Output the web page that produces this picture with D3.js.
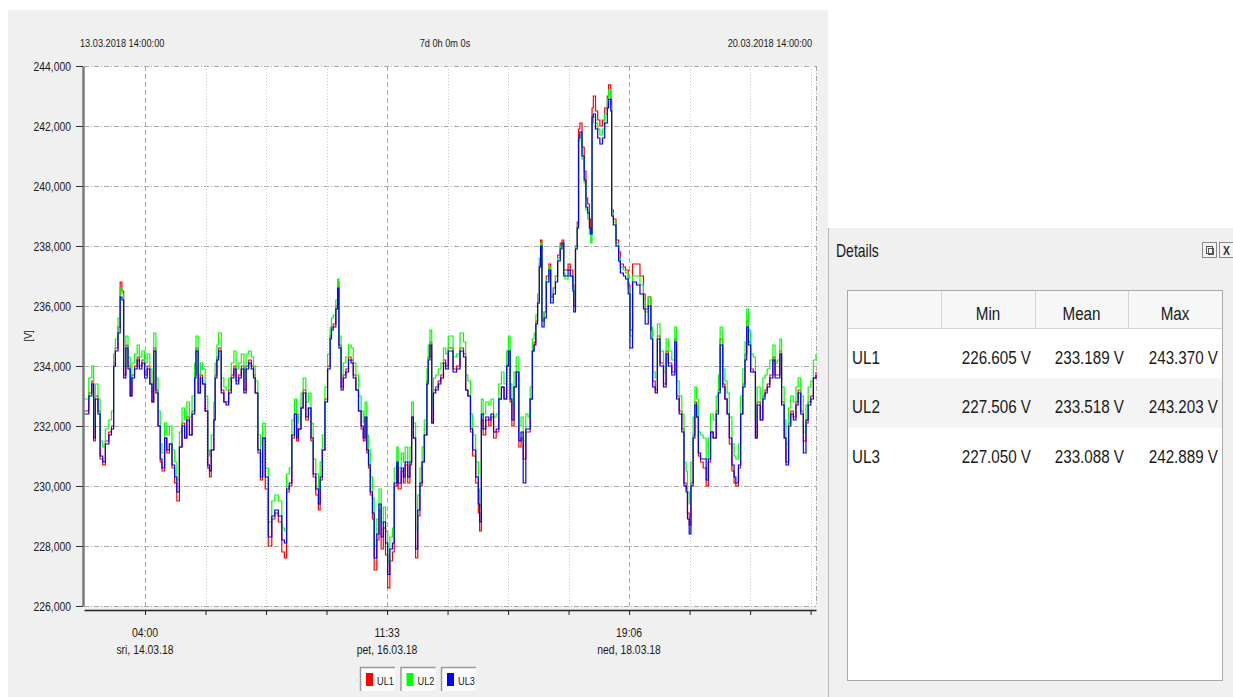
<!DOCTYPE html>
<html>
<head>
    <meta charset="utf-8">
    <title>UL1 / UL2 / UL3</title>
    <script src="https://cdnjs.cloudflare.com/ajax/libs/d3/7.8.5/d3.min.js"></script>
    <style>
        body { margin: 0; background: #fff; }
        text { font-family: "Liberation Sans", Arial, sans-serif; fill: #1a1a1a; }
    </style>
</head>
<body>
<div id="container"></div>
<script type="text/javascript">
    // time offsets (hours from 13.03.2018 14:00) shared by the three phases
    const hours = [
        0.0,1.1,1.8,2.2,2.6,3.2,3.7,4.3,4.9,5.7, 6.3,6.8,7.2,7.8,8.3,8.7,9.1,9.6,10.1,10.6,
        11.0,11.6,12.2,12.7,13.3,13.9,14.5,15.1,15.6,16.0, 16.5,17.0,17.5,17.9,18.5,19.0,19.6,20.2,20.8,21.3,
        21.9,22.5,23.1,23.6,24.2,24.8,25.4,25.7,26.2,26.7, 27.2,27.8,28.4,28.8,29.2,29.8,30.1,30.5,30.9,31.5,
        32.1,32.6,33.2,33.8,34.4,34.9,35.5,36.1,36.7,37.2, 37.8,38.4,38.9,39.3,39.9,40.5,41.0,41.6,
        42.3,43.1,43.8,44.6,45.4,46.0,46.5,47.1,47.7,48.3, 48.8,49.2,49.8,50.3,50.9,51.5,52.1,52.6,53.2,53.8,
        54.2,54.7,55.3,55.9,56.5,56.8,57.2,57.8,58.2,58.5, 59.0,59.5,60.1,60.7,61.3,61.8,62.4,63.0,63.6,64.1,
        64.5,64.9,65.3,65.7,66.2,66.6,67.2,67.7,68.2,68.7, 69.2,69.7,70.2,70.8,71.2,71.8,72.1,72.8,73.3,73.7,
        74.3,74.8,75.2,75.6,76.1,76.6,77.1,77.6,78.1,78.7, 79.0,79.4,79.8,80.2,80.7,81.3,81.9,82.5,83.0,83.6,
        84.7,85.5,86.3,87.1,87.6,88.1,88.7,89.2,89.9,90.5, 90.8,91.2,91.6,92.2,92.9,93.4,94.0,94.6,95.2,95.8,
        96.4,97.0,97.4,97.8,98.2,98.7,99.2,99.8,100.3,100.8, 101.4,101.9,102.4,102.9,103.3,103.7,104.1,104.5,104.8,105.1,
        105.6,106.1,106.7,107.1,107.7,108.2,108.7,109.3,109.7,110.1, 110.4,111.1,111.6,112.2,112.4,112.8,113.2,113.5,113.8,114.3,
        114.8,115.2,115.6,116.0,116.3,116.6,116.9,117.4,117.9,118.4, 119.0,119.5,120.1,120.4,120.9,121.1,121.5,122.1,122.7,123.1,
        123.8,124.3,124.9,125.3,125.9,
        126.8,127.6,128.4,128.8,129.5,130.1,130.5,131.1,131.6,132.2, 133.0,133.6,134.1,134.9,135.6,136.0,136.6,137.2,137.7,138.2,
        138.5,138.9,139.3,139.8,140.2,140.6,141.0,141.5,142.1,142.8, 143.3,143.8,144.4,145.1,145.6,146.0,146.6,147.1,147.6,148.1,
        148.7,149.2,149.6,150.2,150.7,151.2,151.7,152.1,152.5,153.0, 153.6,154.1,154.5,155.2,155.8,156.3,156.8,157.4,158.1,158.6,
        159.1,159.7,160.1,160.7,161.1,161.7,162.2,162.8,163.4,163.9, 164.5,165.1,165.7,166.2,166.8,167.4,168.0
    ];

    const ul1 = [
        232.5,233.1,233.5,231.5,233.0,232.5,230.9,230.7,231.5,231.8, 232.0,234.1,234.6,235.3,236.8,236.5,233.7,234.7,234.0,233.0,
        233.7,234.0,234.3,234.0,234.2,233.7,234.0,233.4,232.8,234.6, 233.2,232.0,230.8,230.5,231.6,231.1,231.4,230.6,230.1,229.5,
        231.3,232.1,231.6,232.3,231.7,232.5,233.7,234.6,233.1,233.7, 233.4,232.5,230.6,230.3,231.2,232.2,233.7,234.3,234.6,233.2,
        232.8,232.8,233.2,233.7,234.0,233.5,233.7,234.0,233.2,234.0, 234.2,234.0,233.7,233.1,231.1,230.2,231.6,229.9,
        228.0,228.9,229.1,228.8,227.8,227.6,229.8,230.0,231.6,232.4, 231.5,231.9,232.6,233.2,232.2,232.6,231.5,230.3,229.7,229.2,
        230.2,231.2,232.9,234.0,235.0,235.3,235.4,236.0,236.8,234.7, 233.3,233.7,233.9,234.3,234.2,233.7,233.2,232.5,231.9,231.5,
        232.3,231.1,230.6,229.7,228.9,227.2,228.2,229.2,227.9,228.6, 227.7,226.605,227.5,227.8,230.0,230.7,229.9,230.5,230.1,230.7,
        230.1,230.7,232.3,231.6,227.6,229.0,230.0,230.8,231.7,233.5, 234.3,234.8,232.1,233.2,233.3,233.5,233.7,234.2,234.0,234.6,
        233.9,234.0,234.6,234.4,233.2,233.0,231.8,231.0,230.1,229.1, 228.5,232.2,231.7,232.2,232.0,232.3,231.6,231.8,232.9,233.3,
        232.9,234.0,234.5,232.8,232.0,233.3,233.8,231.3,231.6,230.9, 231.8,231.8,232.9,234.5,234.8,235.5,236.2,237.4,238.2,235.5,
        235.8,237.0,237.4,236.3,236.6,237.0,237.7,238.1,238.2,237.2, 237.2,237.4,237.2,236.7,236.0,238.0,238.8,241.9,242.1,241.3,
        240.5,239.6,239.4,238.9,238.6,242.6,243.0,242.5,242.2,242.0, 242.2,242.6,243.0,243.37,242.9,239.2,238.9,238.2,237.8,237.4,
        237.3,237.2,236.7,235.2,237.4,
        237.4,237.0,236.4,235.9,236.3,235.2,233.5,233.2,235.0,234.1, 233.4,234.5,234.1,233.8,234.9,233.0,232.5,231.9,230.1,229.9,
        229.1,228.7,230.1,231.7,232.8,232.3,231.0,230.8,230.6,230.0, 230.8,231.8,231.6,232.5,233.2,234.9,233.4,232.9,232.4,231.4,
        230.5,230.1,230.0,230.6,232.4,233.4,234.4,235.5,234.8,233.9, 233.8,231.6,232.8,232.2,233.0,233.2,233.4,233.7,234.3,233.7,
        233.7,234.5,232.8,231.6,230.8,232.1,232.5,232.3,232.8,233.2, 232.5,231.5,232.1,232.8,233.0,233.6,233.8
    ];

    const ul2 = [
        232.9,233.6,234.0,232.0,233.4,232.9,231.5,231.3,231.9,232.2, 232.5,234.4,234.9,235.6,236.6,236.4,234.0,235.0,234.3,233.5,
        234.1,234.4,234.7,234.3,234.5,234.1,234.4,233.9,233.3,235.1, 233.6,232.5,231.4,231.1,232.1,231.7,232.0,231.2,230.8,230.2,
        231.8,232.6,232.2,232.8,232.3,233.0,234.1,235.0,233.7,234.1, 233.9,233.0,231.2,231.0,231.7,232.8,234.1,234.7,235.1,233.6,
        233.3,233.2,233.6,234.1,234.5,233.9,234.1,234.4,233.6,234.4, 234.5,234.3,234.0,233.5,231.7,230.8,232.1,230.6,
        228.8,229.5,229.7,229.5,228.6,228.5,230.4,230.6,232.2,232.9, 232.1,232.4,233.1,233.6,232.8,233.1,232.1,230.9,230.4,229.9,
        230.8,231.7,233.3,234.4,235.3,235.6,235.7,236.2,236.9,235.0, 233.7,234.1,234.3,234.7,234.6,234.1,233.7,233.0,232.5,232.1,
        232.8,231.7,231.2,230.3,229.6,228.0,228.9,229.9,228.8,229.3, 228.5,227.506,228.3,228.6,230.6,231.3,230.6,231.1,230.8,231.3,
        230.8,231.3,232.8,232.1,228.6,229.7,230.6,231.3,232.2,233.9, 234.7,235.2,232.6,233.6,233.7,233.9,234.1,234.6,234.4,235.0,
        234.3,234.4,235.1,234.8,233.7,233.5,232.4,231.7,230.8,229.9, 229.3,232.9,232.4,232.8,232.7,232.9,232.3,232.4,233.4,233.8,
        233.4,234.5,235.0,233.4,232.7,233.8,234.3,232.0,232.3,231.5, 232.4,232.3,233.3,234.9,235.1,235.7,236.4,237.6,238.1,235.5,
        235.8,236.9,237.3,236.3,236.6,237.0,237.6,238.0,238.1,237.1, 236.9,237.0,237.0,236.6,236.2,238.0,238.7,241.5,241.7,240.9,
        240.1,239.2,238.9,238.4,238.1,242.1,242.3,242.1,241.9,241.7, 241.9,242.4,242.9,243.2,242.7,239.1,238.8,238.1,237.6,237.3,
        237.2,237.1,236.6,235.0,237.0,
        237.0,236.7,236.2,235.8,236.3,235.3,233.8,233.6,235.4,234.5, 233.8,234.9,234.5,234.2,235.3,233.5,233.0,232.4,230.8,230.5,
        229.8,229.4,230.8,232.3,233.3,232.9,231.8,231.7,231.6,230.9, 231.6,232.4,232.2,233.0,233.7,235.3,233.9,233.5,233.1,232.3,
        231.4,231.0,230.9,231.4,233.0,233.9,234.8,235.9,235.2,234.4, 234.3,232.2,233.3,232.8,233.6,233.7,233.9,234.2,234.7,234.1,
        234.2,234.9,233.3,232.2,231.4,232.6,233.0,232.8,233.3,233.6, 233.0,231.8,232.7,233.3,233.5,234.2,234.4
    ];

    const ul3 = [
        232.4,233.0,233.4,231.6,232.9,232.4,231.0,230.8,231.4,231.7, 231.9,234.0,234.5,235.1,236.3,236.2,233.6,234.6,233.9,233.0,
        233.6,233.9,234.2,233.9,234.1,233.6,233.9,233.4,232.8,234.5, 233.1,232.0,230.9,230.6,231.6,231.2,231.4,230.7,230.3,229.8,
        231.3,232.0,231.6,232.2,231.7,232.4,233.6,234.5,233.1,233.6, 233.4,232.5,230.7,230.5,231.2,232.2,233.6,234.2,234.5,233.1,
        232.8,232.7,233.1,233.6,233.9,233.4,233.6,233.9,233.1,233.9, 234.1,233.9,233.6,233.1,231.2,230.3,231.6,230.3,
        228.3,229.0,229.2,229.0,228.2,228.1,229.9,230.1,231.7,232.4, 231.6,231.9,232.6,233.1,232.3,232.6,231.6,230.4,229.9,229.4,
        230.3,231.2,232.8,233.9,234.9,235.2,235.3,235.9,236.6,234.6, 233.2,233.6,233.8,234.2,234.1,233.6,233.2,232.5,232.0,231.6,
        232.3,231.2,230.7,229.8,229.1,227.6,228.4,229.4,228.3,228.8, 228.1,227.05,227.9,228.1,230.1,230.8,230.1,230.6,230.3,230.8,
        230.3,230.8,232.3,231.6,227.9,229.2,230.1,230.8,231.7,233.4, 234.2,234.7,232.1,233.1,233.2,233.4,233.6,234.1,233.9,234.5,
        233.8,233.9,234.5,234.3,233.2,233.0,231.9,231.2,230.3,229.4, 228.8,232.4,231.9,232.3,232.2,232.4,231.8,231.9,232.9,233.3,
        232.9,234.0,234.5,232.9,232.2,233.3,233.8,231.5,231.8,230.1, 231.9,231.9,232.9,234.5,234.7,235.4,236.1,237.3,238.0,235.3,
        235.6,236.8,237.2,236.1,236.4,236.8,237.5,237.9,238.1,237.0, 237.0,237.2,237.0,236.5,235.8,237.9,238.6,241.6,241.8,241.0,
        240.2,239.3,239.1,238.6,238.4,242.3,242.4,241.9,241.6,241.4, 241.6,242.1,242.6,242.889,242.5,239.0,238.7,238.0,237.5,237.1,
        237.0,236.9,236.4,234.6,236.8,
        236.7,236.4,235.9,235.4,236.0,234.9,233.3,233.1,234.9,234.0, 233.3,234.4,234.0,233.7,234.8,232.9,232.4,231.8,230.0,229.8,
        228.9,228.4,230.0,231.6,232.7,232.3,231.1,230.9,230.9,230.2, 230.9,231.8,231.6,232.4,233.1,234.7,233.3,232.9,232.4,231.6,
        230.7,230.3,230.1,230.7,232.4,233.3,234.2,235.3,234.7,233.8, 233.8,231.6,232.7,232.2,232.9,233.1,233.3,233.6,234.2,233.6,
        233.6,234.4,232.7,231.6,230.7,232.0,232.4,232.2,232.7,233.1, 232.4,231.1,232.2,232.7,232.9,233.6,233.7
    ];

    const seriesNames = ["UL1", "UL2", "UL3"];
    const seriesColors = ["#ff0000", "#00ff00", "#0000ff"];
    const yTicks = [226, 228, 230, 232, 234, 236, 238, 240, 242, 244];
    const weekdays = ["ned", "pon", "uto", "sri", "čet", "pet", "sub"];
    const statCols = ["Min", "Mean", "Max"];
    const statMin = [226.605, 227.506, 227.050];
    const statMean = [233.189, 233.518, 233.088];
    const statMax = [243.370, 243.203, 242.889];

    const start = new Date(2018, 2, 13, 14, 0, 0);
    const end = new Date(2018, 2, 20, 14, 0, 0);
    const firstTick = new Date(2018, 2, 14, 4, 0, 0);
    const tickStep = 833.25 * 60000;   // 4 minor steps per labelled tick

    const SX = 0.8;   // the screenshot fonts are narrow
    function addText(g, x, y, s, size, anchor) {
        return g.append("text")
            .attr("transform", `translate(${x},${y}) scale(${SX},1)`)
            .attr("text-anchor", anchor || "start")
            .style("font-size", size + "px")
            .text(s);
    }

    const svg = d3.select("#container")
        .append("svg")
        .attr("width", 1233)
        .attr("height", 697)
        .style("display", "block");

    // chart panel
    svg.append("rect").attr("x", 8).attr("y", 10).attr("width", 820).attr("height", 687).attr("fill", "#f0f0f0");

    const x = d3.scaleTime().domain([start, end]).range([84, 816]);
    const y = d3.scaleLinear().domain([226, 244]).range([606, 66]);

    svg.append("rect").attr("x", 84).attr("y", 66).attr("width", 732).attr("height", 540).attr("fill", "#fff");

    const tickDates = d3.range(12).map(k => new Date(+firstTick + k * tickStep));

    // grid
    const grid = svg.append("g");
    grid.selectAll("hline").data(yTicks).join("line")
        .attr("x1", 84).attr("x2", 816)
        .attr("y1", d => y(d) + 0.5).attr("y2", d => y(d) + 0.5)
        .attr("stroke", "#a8a8a8").attr("stroke-dasharray", "5,2,1,2");
    grid.selectAll("vline").data(tickDates).join("line")
        .attr("x1", d => Math.round(x(d)) + 0.5).attr("x2", d => Math.round(x(d)) + 0.5)
        .attr("y1", 66).attr("y2", 606)
        .attr("stroke", (d, i) => i % 4 === 0 ? "#a8a8a8" : "#c8c8c8")
        .attr("stroke-dasharray", (d, i) => i % 4 === 0 ? "5,3" : "1,2");
    grid.append("line").attr("x1", 816.5).attr("x2", 816.5).attr("y1", 66).attr("y2", 606)
        .attr("stroke", "#a8a8a8").attr("stroke-dasharray", "5,2,1,2");

    // lines
    svg.append("clipPath").attr("id", "plotclip").append("rect")
        .attr("x", 84).attr("y", 60).attr("width", 733).attr("height", 547);
    const dates = hours.map(h => new Date(+start + h * 3600000));
    const line = vals => d3.line()
        .x((d, i) => x(dates[i]))
        .y(d => y(d))
        .curve(d3.curveStepAfter)(vals);
    [ul1, ul2, ul3].forEach((vals, k) => {
        svg.append("path")
            .attr("clip-path", "url(#plotclip)")
            .attr("d", line(vals))
            .attr("fill", "none")
            .attr("stroke", seriesColors[k])
            .attr("stroke-width", 1.2);
    });

    // axes
    const yAxis = svg.append("g").attr("transform", "translate(83,0)")
        .call(d3.axisLeft(y).tickValues(yTicks).tickSize(7).tickSizeOuter(0).tickFormat(""));
    yAxis.select(".domain").attr("stroke", "#7a7a7a").attr("stroke-width", 2.5);
    yAxis.selectAll(".tick line").attr("stroke", "#333");

    const xAxis = svg.append("g").attr("transform", "translate(0,610)")
        .call(d3.axisBottom(x).tickValues(tickDates).tickSize(5).tickSizeOuter(0).tickFormat(""));
    xAxis.select(".domain").attr("stroke", "#222").attr("stroke-width", 1.5);
    xAxis.selectAll(".tick line").attr("stroke", "#222");

    const fmtY = d3.formatLocale({decimal: ",", thousands: ".", grouping: [3]}).format(".3f");
    yTicks.forEach(v => addText(svg, 71, y(v) + 4.5, fmtY(v), 13, "end"));

    const fmtHM = d3.timeFormat("%H:%M");
    const fmtDay = d3.timeFormat("%d.%m.%y");
    tickDates.filter((d, i) => i % 4 === 0).forEach(d => {
        addText(svg, x(d), 637, fmtHM(d), 13, "middle");
        addText(svg, x(d), 654, weekdays[d.getDay()] + ", " + fmtDay(d), 13, "middle");
    });

    // header
    const fmtFull = d3.timeFormat("%d.%m.%Y %H:%M:%S");
    const span = end - start;
    const spanText = Math.floor(span / 864e5) + "d " + Math.floor(span % 864e5 / 36e5) + "h " +
        Math.floor(span % 36e5 / 6e4) + "m " + Math.floor(span % 6e4 / 1e3) + "s";
    addText(svg, 80, 47, fmtFull(start), 11.5, "start");
    addText(svg, 445, 47, spanText, 11.5, "middle");
    addText(svg, 812, 47, fmtFull(end), 11.5, "end");

    svg.append("text")
        .attr("transform", "translate(32,336) rotate(-90) scale(0.85,1)")
        .attr("text-anchor", "middle")
        .style("font-size", "11px")
        .text("[V]");

    // legend
    const legend = svg.append("g");
    seriesNames.forEach((name, k) => {
        const lx = 360 + k * 40.5, ly = 667;
        legend.append("rect").attr("x", lx).attr("y", ly).attr("width", 35).attr("height", 24).attr("fill", "#fbfbfb");
        legend.append("path").attr("d", `M${lx + 0.5},${ly + 24}V${ly + 0.5}H${lx + 35}`)
            .attr("fill", "none").attr("stroke", "#9a9a9a").attr("stroke-width", 1.5);
        legend.append("rect").attr("x", lx + 6).attr("y", ly + 6).attr("width", 7).attr("height", 13).attr("fill", seriesColors[k]);
        addText(legend, lx + 17, ly + 17.5, name, 11.5, "start");
    });

    // details dock
    const det = svg.append("g");
    det.append("rect").attr("x", 828).attr("y", 228).attr("width", 405).attr("height", 469).attr("fill", "#f0f0f0");
    det.append("line").attr("x1", 828.5).attr("x2", 828.5).attr("y1", 228).attr("y2", 697).attr("stroke", "#b8b8b8");
    addText(det, 836, 257, "Details", 17.5, "start");
    det.append("rect").attr("x", 1202.5).attr("y", 242.5).attr("width", 14).attr("height", 15).attr("fill", "#f4f4f4").attr("stroke", "#8a8a8a");
    det.append("rect").attr("x", 1206.5).attr("y", 246.5).attr("width", 6).attr("height", 7).attr("fill", "none").attr("stroke", "#555");
    det.append("rect").attr("x", 1208.5).attr("y", 248.5).attr("width", 5).attr("height", 6).attr("fill", "none").attr("stroke", "#555");
    det.append("rect").attr("x", 1219.5).attr("y", 242.5).attr("width", 14).attr("height", 15).attr("fill", "#f4f4f4").attr("stroke", "#8a8a8a");
    addText(det, 1226.5, 255, "X", 13, "middle").style("font-weight", "bold").style("fill", "#333");

    const tx0 = 848, colEdges = [848, 941, 1035, 1128, 1222];
    det.append("rect").attr("x", tx0 - 0.5).attr("y", 290.5).attr("width", 375).attr("height", 390)
        .attr("fill", "#fff").attr("stroke", "#a8a8a8");
    det.append("rect").attr("x", tx0).attr("y", 291).attr("width", 374).attr("height", 38).attr("fill", "#f7f7f7");
    det.append("line").attr("x1", tx0).attr("x2", 1222).attr("y1", 328.5).attr("y2", 328.5).attr("stroke", "#d4d4d4");
    colEdges.slice(1, 4).forEach(cx => det.append("line")
        .attr("x1", cx + 0.5).attr("x2", cx + 0.5).attr("y1", 291).attr("y2", 328).attr("stroke", "#d4d4d4"));
    statCols.forEach((c, j) => addText(det, (colEdges[j + 1] + colEdges[j + 2]) / 2, 320, c, 19, "middle"));

    const fmtV = v => d3.format(".3f")(v) + " V";
    const rowTop = [329, 378, 428];
    seriesNames.forEach((name, i) => {
        if (i === 1) det.append("rect").attr("x", tx0).attr("y", rowTop[i]).attr("width", 374).attr("height", 50).attr("fill", "#f4f4f4");
        const base = rowTop[i] + 35;
        addText(det, 852, base, name, 19, "start");
        [statMin, statMean, statMax].forEach((arr, j) => addText(det, colEdges[j + 2] - 4, base, fmtV(arr[i]), 19, "end"));
    });
</script>
</body>
</html>
